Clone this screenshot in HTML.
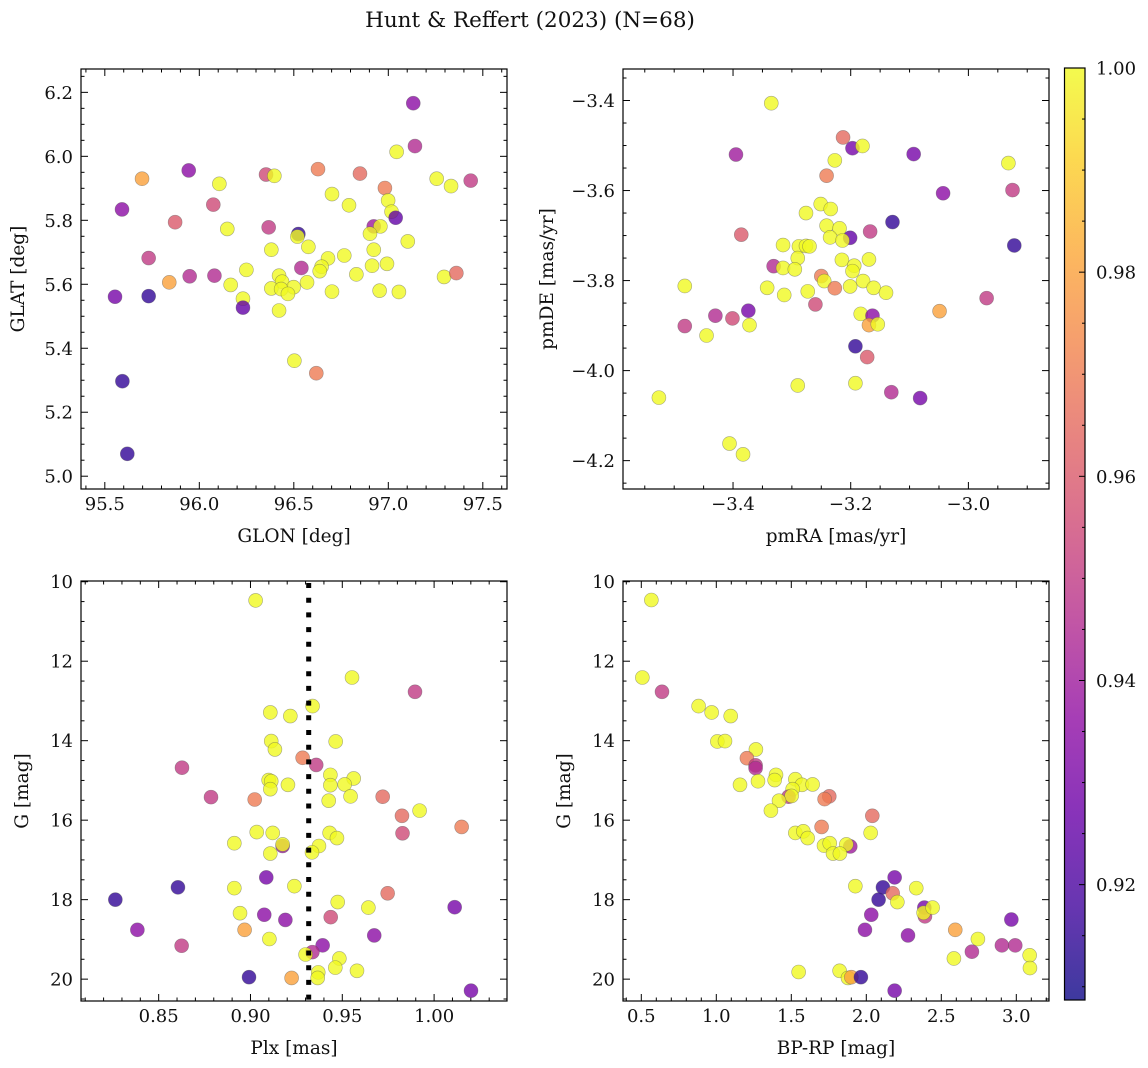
<!DOCTYPE html>
<html><head><meta charset="utf-8">
<style>
html,body{margin:0;padding:0;background:#fff;}
svg{display:block;font-family:"DejaVu Serif","Liberation Serif",serif;}
</style></head>
<body>
<svg id="fig" width="1148" height="1068" viewBox="0 0 1148 1068" xmlns="http://www.w3.org/2000/svg">
<rect width="1148" height="1068" fill="#fff"/>
<text x="530" y="27" font-size="21.5" text-anchor="middle" fill="#111">Hunt &amp; Reffert (2023) (N=68)</text>
</svg>
<script>
// ---------- data ----------
const glon = [97.132,97.141,97.044,96.628,96.850,96.353,96.397,95.944,95.697,96.106,97.256,97.332,97.436,96.982,96.702,96.792,96.999,97.017,97.039,96.074,95.591,95.872,96.148,96.367,96.923,96.958,96.524,96.519,96.903,97.103,96.577,96.381,95.732,96.681,96.767,96.923,96.914,96.993,96.647,96.637,96.540,96.249,96.831,95.949,96.080,95.841,96.166,96.422,96.438,96.570,96.499,96.381,96.433,96.469,97.295,97.360,96.702,96.954,97.056,95.554,95.732,96.231,96.231,96.422,96.503,96.619,95.593,95.619];
const glat = [6.166,6.032,6.014,5.960,5.946,5.943,5.939,5.956,5.930,5.914,5.930,5.907,5.924,5.901,5.882,5.847,5.862,5.827,5.808,5.849,5.834,5.794,5.773,5.778,5.781,5.781,5.757,5.749,5.758,5.734,5.717,5.708,5.682,5.681,5.690,5.708,5.658,5.664,5.655,5.641,5.651,5.645,5.631,5.625,5.627,5.606,5.598,5.627,5.608,5.606,5.591,5.587,5.585,5.570,5.623,5.635,5.577,5.580,5.576,5.561,5.563,5.555,5.527,5.518,5.361,5.322,5.297,5.070];
const prob1 = [.935,.945,1,.97,.965,.955,1,.935,.98,1,1,1,.95,.97,1,1,1,1,.925,.955,.935,.96,1,.95,.94,1,.915,1,1,1,1,1,.95,1,1,1,1,1,1,1,.945,1,1,.945,.945,.98,1,1,1,1,1,1,1,1,1,.965,1,1,1,.93,.915,1,.925,1,1,.97,.915,.915];

const pmra = [-3.335,-3.213,-3.197,-3.180,-3.395,-3.093,-3.227,-2.932,-3.241,-3.043,-2.925,-3.251,-3.234,-3.276,-3.129,-3.241,-3.219,-3.386,-3.167,-3.235,-3.201,-3.214,-2.922,-3.315,-3.288,-3.276,-3.270,-3.290,-3.215,-3.169,-3.331,-3.315,-3.295,-3.194,-3.197,-3.250,-3.245,-3.482,-3.342,-3.227,-3.201,-3.179,-3.161,-3.140,-3.313,-3.273,-2.969,-3.260,-3.049,-3.374,-3.430,-3.401,-3.183,-3.163,-3.169,-3.154,-3.482,-3.372,-3.445,-3.192,-3.172,-3.290,-3.192,-3.131,-3.082,-3.526,-3.406,-3.383];
const pmde = [-3.406,-3.482,-3.506,-3.501,-3.520,-3.519,-3.533,-3.539,-3.567,-3.606,-3.599,-3.630,-3.641,-3.650,-3.670,-3.678,-3.684,-3.698,-3.691,-3.704,-3.705,-3.711,-3.722,-3.721,-3.724,-3.723,-3.724,-3.750,-3.754,-3.753,-3.768,-3.772,-3.775,-3.767,-3.779,-3.790,-3.801,-3.812,-3.816,-3.817,-3.813,-3.801,-3.816,-3.827,-3.832,-3.824,-3.839,-3.853,-3.868,-3.867,-3.878,-3.884,-3.874,-3.878,-3.899,-3.897,-3.901,-3.899,-3.922,-3.946,-3.970,-4.033,-4.028,-4.048,-4.061,-4.060,-4.162,-4.186];
const prob2 = [1,.965,.93,1,.94,.93,1,1,.97,.935,.95,1,1,1,.915,1,1,.96,.95,1,.925,1,.915,1,1,1,1,1,1,1,.945,1,1,1,1,.97,1,1,1,.97,1,1,1,1,1,1,.95,.955,.98,.93,.945,.955,1,.935,.98,1,.95,1,1,.915,.96,1,1,.945,.93,1,1,1];

const plx = [.9028,.9553,.9896,.9338,.9108,.9217,.9113,.9133,.9464,.9284,.9358,.9435,.9562,.9099,.9113,.9204,.9435,.9513,.9108,.8627,.8785,.9023,.9545,.9426,.9720,.9825,.9921,1.0150,.9828,.9034,.9121,.8912,.9175,.9175,.9108,.9373,.9335,.9431,.9471,.9086,.8605,.8264,.8912,.9239,.9747,.9475,.9642,1.0112,.8943,.9075,.9190,.9437,.8384,.8968,.9674,.8625,.9103,.9393,.9337,.9300,.9484,.9462,.9580,.9369,.9366,.8992,.9224,1.0201];
const gmag3 = [10.47,12.41,12.77,13.13,13.29,13.38,14.01,14.22,14.02,14.43,14.61,14.86,14.95,14.99,15.02,15.11,15.12,15.10,15.22,14.68,15.42,15.48,15.40,15.51,15.41,15.89,15.76,16.17,16.33,16.30,16.32,16.58,16.65,16.61,16.84,16.65,16.81,16.32,16.45,17.44,17.69,18.00,17.71,17.66,17.84,18.06,18.20,18.19,18.34,18.38,18.51,18.44,18.76,18.76,18.90,19.16,18.99,19.15,19.32,19.38,19.48,19.71,19.79,19.83,19.97,19.95,19.97,20.29];
const prob3 = [1,1,.95,1,1,1,1,1,1,.97,.95,1,1,1,1,1,1,1,1,.95,.95,.97,1,1,.965,.965,1,.97,.955,1,1,1,.94,1,1,1,1,1,1,.93,.915,.915,1,1,.965,1,1,.93,1,.935,.935,.955,.935,.98,.935,.95,1,.935,.945,1,1,1,1,1,1,.915,.98,.93];
const plxRef = [0.9317];

const bprp = [.567,.507,.638,.882,.969,1.096,1.007,1.058,1.264,1.204,1.262,1.262,1.398,1.389,1.527,1.571,1.642,1.158,1.278,1.509,1.482,1.502,1.418,1.753,1.722,1.364,2.040,2.029,1.702,1.527,1.580,1.609,1.893,1.867,1.718,1.756,1.778,1.824,1.927,2.189,2.111,2.082,2.176,2.207,2.333,2.387,2.391,2.382,2.442,2.033,1.991,2.278,2.593,2.744,2.967,2.704,2.904,2.993,2.584,3.089,3.091,1.549,1.822,1.878,1.900,1.964,2.189];
const gmag4 = [10.46,12.41,12.77,13.13,13.29,13.38,14.02,14.01,14.22,14.44,14.62,14.69,14.86,14.99,14.97,15.11,15.10,15.11,15.02,15.22,15.41,15.39,15.51,15.40,15.47,15.76,15.89,16.32,16.17,16.32,16.28,16.45,16.66,16.61,16.64,16.58,16.84,16.84,17.66,17.44,17.69,18.00,17.84,18.06,17.71,18.20,18.42,18.33,18.20,18.38,18.76,18.90,18.76,18.99,18.50,19.31,19.15,19.15,19.48,19.40,19.72,19.82,19.79,19.97,19.95,19.95,20.29];
const prob4 = [1,1,.95,1,1,1,1,1,1,.97,.95,.945,1,1,1,1,1,1,1,1,.95,1,1,.965,.97,1,.965,1,.97,1,1,1,.94,1,1,1,1,1,1,.93,.915,.915,.965,1,1,.93,.95,1,1,.935,.935,.935,.98,1,.93,.945,.945,.945,1,1,1,1,1,1,.98,.915,.93];

const cbTicks = [0.92,0.94,0.96,0.98,1.00];
const cbRange = [0.9087,1.0];

// ---------- helpers ----------
const NS = "http://www.w3.org/2000/svg";
const svg = document.getElementById('fig');
const TICKFS = 18, LABFS = 18.5;
function mk(tag, attrs, parent){
  const e = document.createElementNS(NS, tag);
  for (const k in attrs) e.setAttribute(k, attrs[k]);
  (parent||svg).appendChild(e);
  return e;
}
const stops = ["#0d0887","#41049d","#6a00a8","#8f0da4","#b12a90","#cc4778","#e16462","#f2844b","#fca636","#fcce25","#f0f921"];
function hex(h){return [parseInt(h.substr(1,2),16),parseInt(h.substr(3,2),16),parseInt(h.substr(5,2),16)];}
function plasma(t){
  t = Math.max(0, Math.min(1, t));
  const s = t*10, i = Math.min(9, Math.floor(s)), f = s - i;
  const a = hex(stops[i]), b = hex(stops[i+1]);
  return "rgb(" + a.map((v,k)=>Math.round(v+(b[k]-v)*f)).join(",") + ")";
}
function colorOf(p){ return plasma((p - cbRange[0])/(cbRange[1]-cbRange[0])); }
function fmt(v, d){ const s = Math.abs(v).toFixed(d); return (v < -1e-9 ? "\u2212" : "") + s; }

function panel(cfg){
  const g = mk('g', {});
  
  
  const {x0,y0,w,h,xd,yd} = cfg;
  const sx = v => x0 + (v - xd[0])/(xd[1]-xd[0])*w;
  const sy = v => y0 + (v - yd[0])/(yd[1]-yd[0])*h;
  const tg = mk('g', {stroke:"#000","stroke-width":1}, g);
  
  
  const lo = Math.min(xd[0],xd[1]), hi = Math.max(xd[0],xd[1]);
  for (let k = Math.ceil(lo/cfg.xminor - 1e-6); k*cfg.xminor <= hi + 1e-9; k++){
    const v = k*cfg.xminor, X = sx(v);
    const major = Math.abs(v/cfg.xmajor - Math.round(v/cfg.xmajor)) < 1e-4;
    const L = major ? 7 : 3.5;
    mk('line', {x1:X,x2:X,y1:y0+h,y2:y0+h-L}, tg);
    mk('line', {x1:X,x2:X,y1:y0,y2:y0+L}, tg);
    if (major){
      const t = mk('text', {x:X, y:y0+h+21, "font-size":TICKFS, "text-anchor":"middle", fill:"#111", stroke:"none"}, g);
      
      
      t.textContent = fmt(v, cfg.xdec);
    }
  }
  const ylo = Math.min(yd[0],yd[1]), yhi = Math.max(yd[0],yd[1]);
  for (let k = Math.ceil(ylo/cfg.yminor - 1e-6); k*cfg.yminor <= yhi + 1e-9; k++){
    const v = k*cfg.yminor, Y = sy(v);
    const major = Math.abs(v/cfg.ymajor - Math.round(v/cfg.ymajor)) < 1e-4;
    const L = major ? 7 : 3.5;
    mk('line', {x1:x0,x2:x0+L,y1:Y,y2:Y}, tg);
    mk('line', {x1:x0+w,x2:x0+w-L,y1:Y,y2:Y}, tg);
    if (major){
      const t = mk('text', {x:x0-8, y:Y+6.5, "font-size":TICKFS, "text-anchor":"end", fill:"#111", stroke:"none"}, g);
      
      
      t.textContent = fmt(v, cfg.ydec);
    }
  }
  const pg = mk('g', {}, g);
  
  
  for (let i = 0; i < cfg.xs.length; i++){
    const c = mk('circle', {cx:sx(cfg.xs[i]), cy:sy(cfg.ys[i]), r:7, fill:colorOf(cfg.cs[i]), "fill-opacity":0.8, stroke:"#555", "stroke-opacity":0.5, "stroke-width":0.6}, pg);
    
    
  }
  if (cfg.vline){
    const X = sx(cfg.vline[0]);
    const l = mk('line', {x1:X,x2:X,y1:y0,y2:y0+h,stroke:"#000","stroke-width":5,"stroke-dasharray":"5,9.7","stroke-dashoffset":"-2"}, g);
    
    
  }
  const fr = mk('rect', {x:x0,y:y0,width:w,height:h,fill:"none",stroke:"#000","stroke-width":1.2}, g);
  
  
  const xl = mk('text', {x:x0+w/2, y:y0+h+53, "font-size":LABFS, "text-anchor":"middle", fill:"#111"}, g);
  
  
  xl.textContent = cfg.xlabel;
  const yl = mk('text', {x:0, y:0, "font-size":LABFS, "text-anchor":"middle", fill:"#111", transform:`translate(${x0-cfg.ylOff},${y0+h/2}) rotate(-90)`}, g);
  
  
  yl.textContent = cfg.ylabel;
}

panel({name:"glon-glat-panel", x0:81,y0:69,w:426,h:420, xd:[95.374,97.628], yd:[6.273,4.960],
  xmajor:0.5,xminor:0.1,xdec:1, ymajor:0.2,yminor:0.05,ydec:1, xs:glon,ys:glat,cs:prob1,
  xlabel:"GLON [deg]", ylabel:"GLAT [deg]", ylOff:57});
panel({name:"proper-motion-panel", x0:623,y0:69,w:426,h:420, xd:[-3.587,-2.863], yd:[-3.330,-4.263],
  xmajor:0.2,xminor:0.05,xdec:1, ymajor:0.2,yminor:0.05,ydec:1, xs:pmra,ys:pmde,cs:prob2,
  xlabel:"pmRA [mas/yr]", ylabel:"pmDE [mas/yr]", ylOff:70});
panel({name:"parallax-mag-panel", x0:81,y0:581,w:426,h:420, xd:[0.8077,1.0397], yd:[9.982,20.55],
  xmajor:0.05,xminor:0.01,xdec:2, ymajor:2,yminor:0.5,ydec:0, xs:plx,ys:gmag3,cs:prob3, vline:plxRef,
  xlabel:"Plx [mas]", ylabel:"G [mag]", ylOff:53});
panel({name:"cmd-panel", x0:623,y0:581,w:426,h:420, xd:[0.378,3.218], yd:[9.982,20.55],
  xmajor:0.5,xminor:0.1,xdec:1, ymajor:2,yminor:0.5,ydec:0, xs:bprp,ys:gmag4,cs:prob4,
  xlabel:"BP-RP [mag]", ylabel:"G [mag]", ylOff:53});

// ---------- colorbar ----------
(function(){
  const cx = 1064.5, cw = 20.5, ctop = 68, cbot = 1000;
  const g = mk('g', {});
  
  
  const defs = mk('defs', {}, g);
  const lg = mk('linearGradient', {id:"cbgrad", x1:0, y1:1, x2:0, y2:0}, defs);
  for (let i = 0; i <= 20; i++){
    mk('stop', {offset:(i/20), "stop-color":plasma(i/20), "stop-opacity":0.8}, lg);
  }
  const r = mk('rect', {x:cx, y:ctop, width:cw, height:cbot-ctop, fill:"url(#cbgrad)", stroke:"#000", "stroke-width":1.2}, g);
  
  
  const cy = p => cbot - (p - cbRange[0])/(cbRange[1]-cbRange[0])*(cbot-ctop);
  for (let p = 0.91; p <= 1.0001; p += 0.005){
    const Y = cy(p);
    const major = cbTicks.some(t => Math.abs(t-p) < 1e-4);
    mk('line', {x1:cx+cw, x2:cx+cw-(major?6:3), y1:Y, y2:Y, stroke:"#000", "stroke-width":1}, g);
  }
  cbTicks.forEach(t => {
    const tx = mk('text', {x:cx+cw+11, y:cy(t)+6.5, "font-size":TICKFS, fill:"#111"}, g);
    
    
    tx.textContent = t.toFixed(2);
  });
})();
</script>
</body></html>
